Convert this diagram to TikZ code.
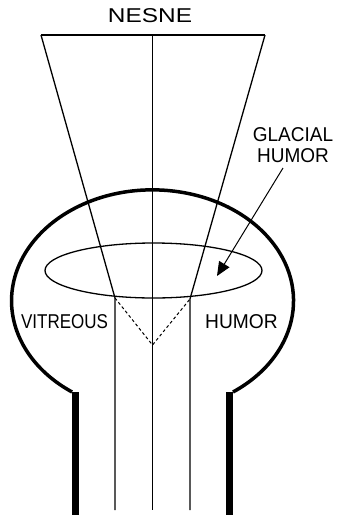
\documentclass[tikz,border=0pt]{standalone}
\usepackage{fontspec}
\setmainfont{Liberation Sans}
\usetikzlibrary{arrows.meta}

\begin{document}
\begin{tikzpicture}[x=1pt, y=-1pt,
        lbl/.style={font=\fontsize{20}{21}\selectfont, inner sep=0pt, align=center},
        ray/.style={line width=1.3pt},
        hidden/.style={line width=1pt, dash pattern=on 3pt off 2.5pt},
        wall/.style={line width=3.5pt},
        stem/.style={line width=7pt},
        pointer/.style={-{Triangle[length=14pt, width=12pt]}, line width=1pt}
    ]
        \useasboundingbox (0,0) rectangle (337,515);

        \coordinate (NL) at (41,35);
        \coordinate (NC) at (152.5,35);
        \coordinate (NR) at (265,35);
        \coordinate (LL) at (115,298);
        \coordinate (LR) at (190,299);
        \coordinate (apex) at (152.5,345);
        \coordinate (BL) at (115,510);
        \coordinate (BC) at (152.5,510);
        \coordinate (BR) at (190,510);

        \draw[wall] (233,392) arc[start angle=55.2, end angle=-235.2, x radius=141, y radius=111];
        \draw[stem] (75.5,392) -- (75.5,515);
        \draw[stem] (229.5,392) -- (229.5,515);

        \draw[ray] (153.5,270.5) ellipse[x radius=108.5, y radius=27.5];

        \draw[ray] (NL) -- (NR);
        \draw[ray] (NC) -- (BC);
        \draw[ray] (NL) -- (LL) -- (BL);
        \draw[ray] (NR) -- (LR) -- (BR);
        \draw[hidden] (LL) -- (apex) -- (LR);

        \node[lbl, xscale=1.22] (nesne) at (150,15.5) {NESNE};
        \node[lbl, xscale=0.95] (glacial) at (293,145.5) {GLACIAL\\HUMOR};
        \node[lbl, xscale=0.85] (vitreous) at (64.5,322) {VITREOUS};
        \node[lbl, xscale=0.96] (humor) at (241.5,322) {HUMOR};

        \coordinate (tail) at (283,168);
        \coordinate (lens) at (217,276);
        \draw[pointer] (tail) -- (lens);
    \end{tikzpicture}
\end{document}
